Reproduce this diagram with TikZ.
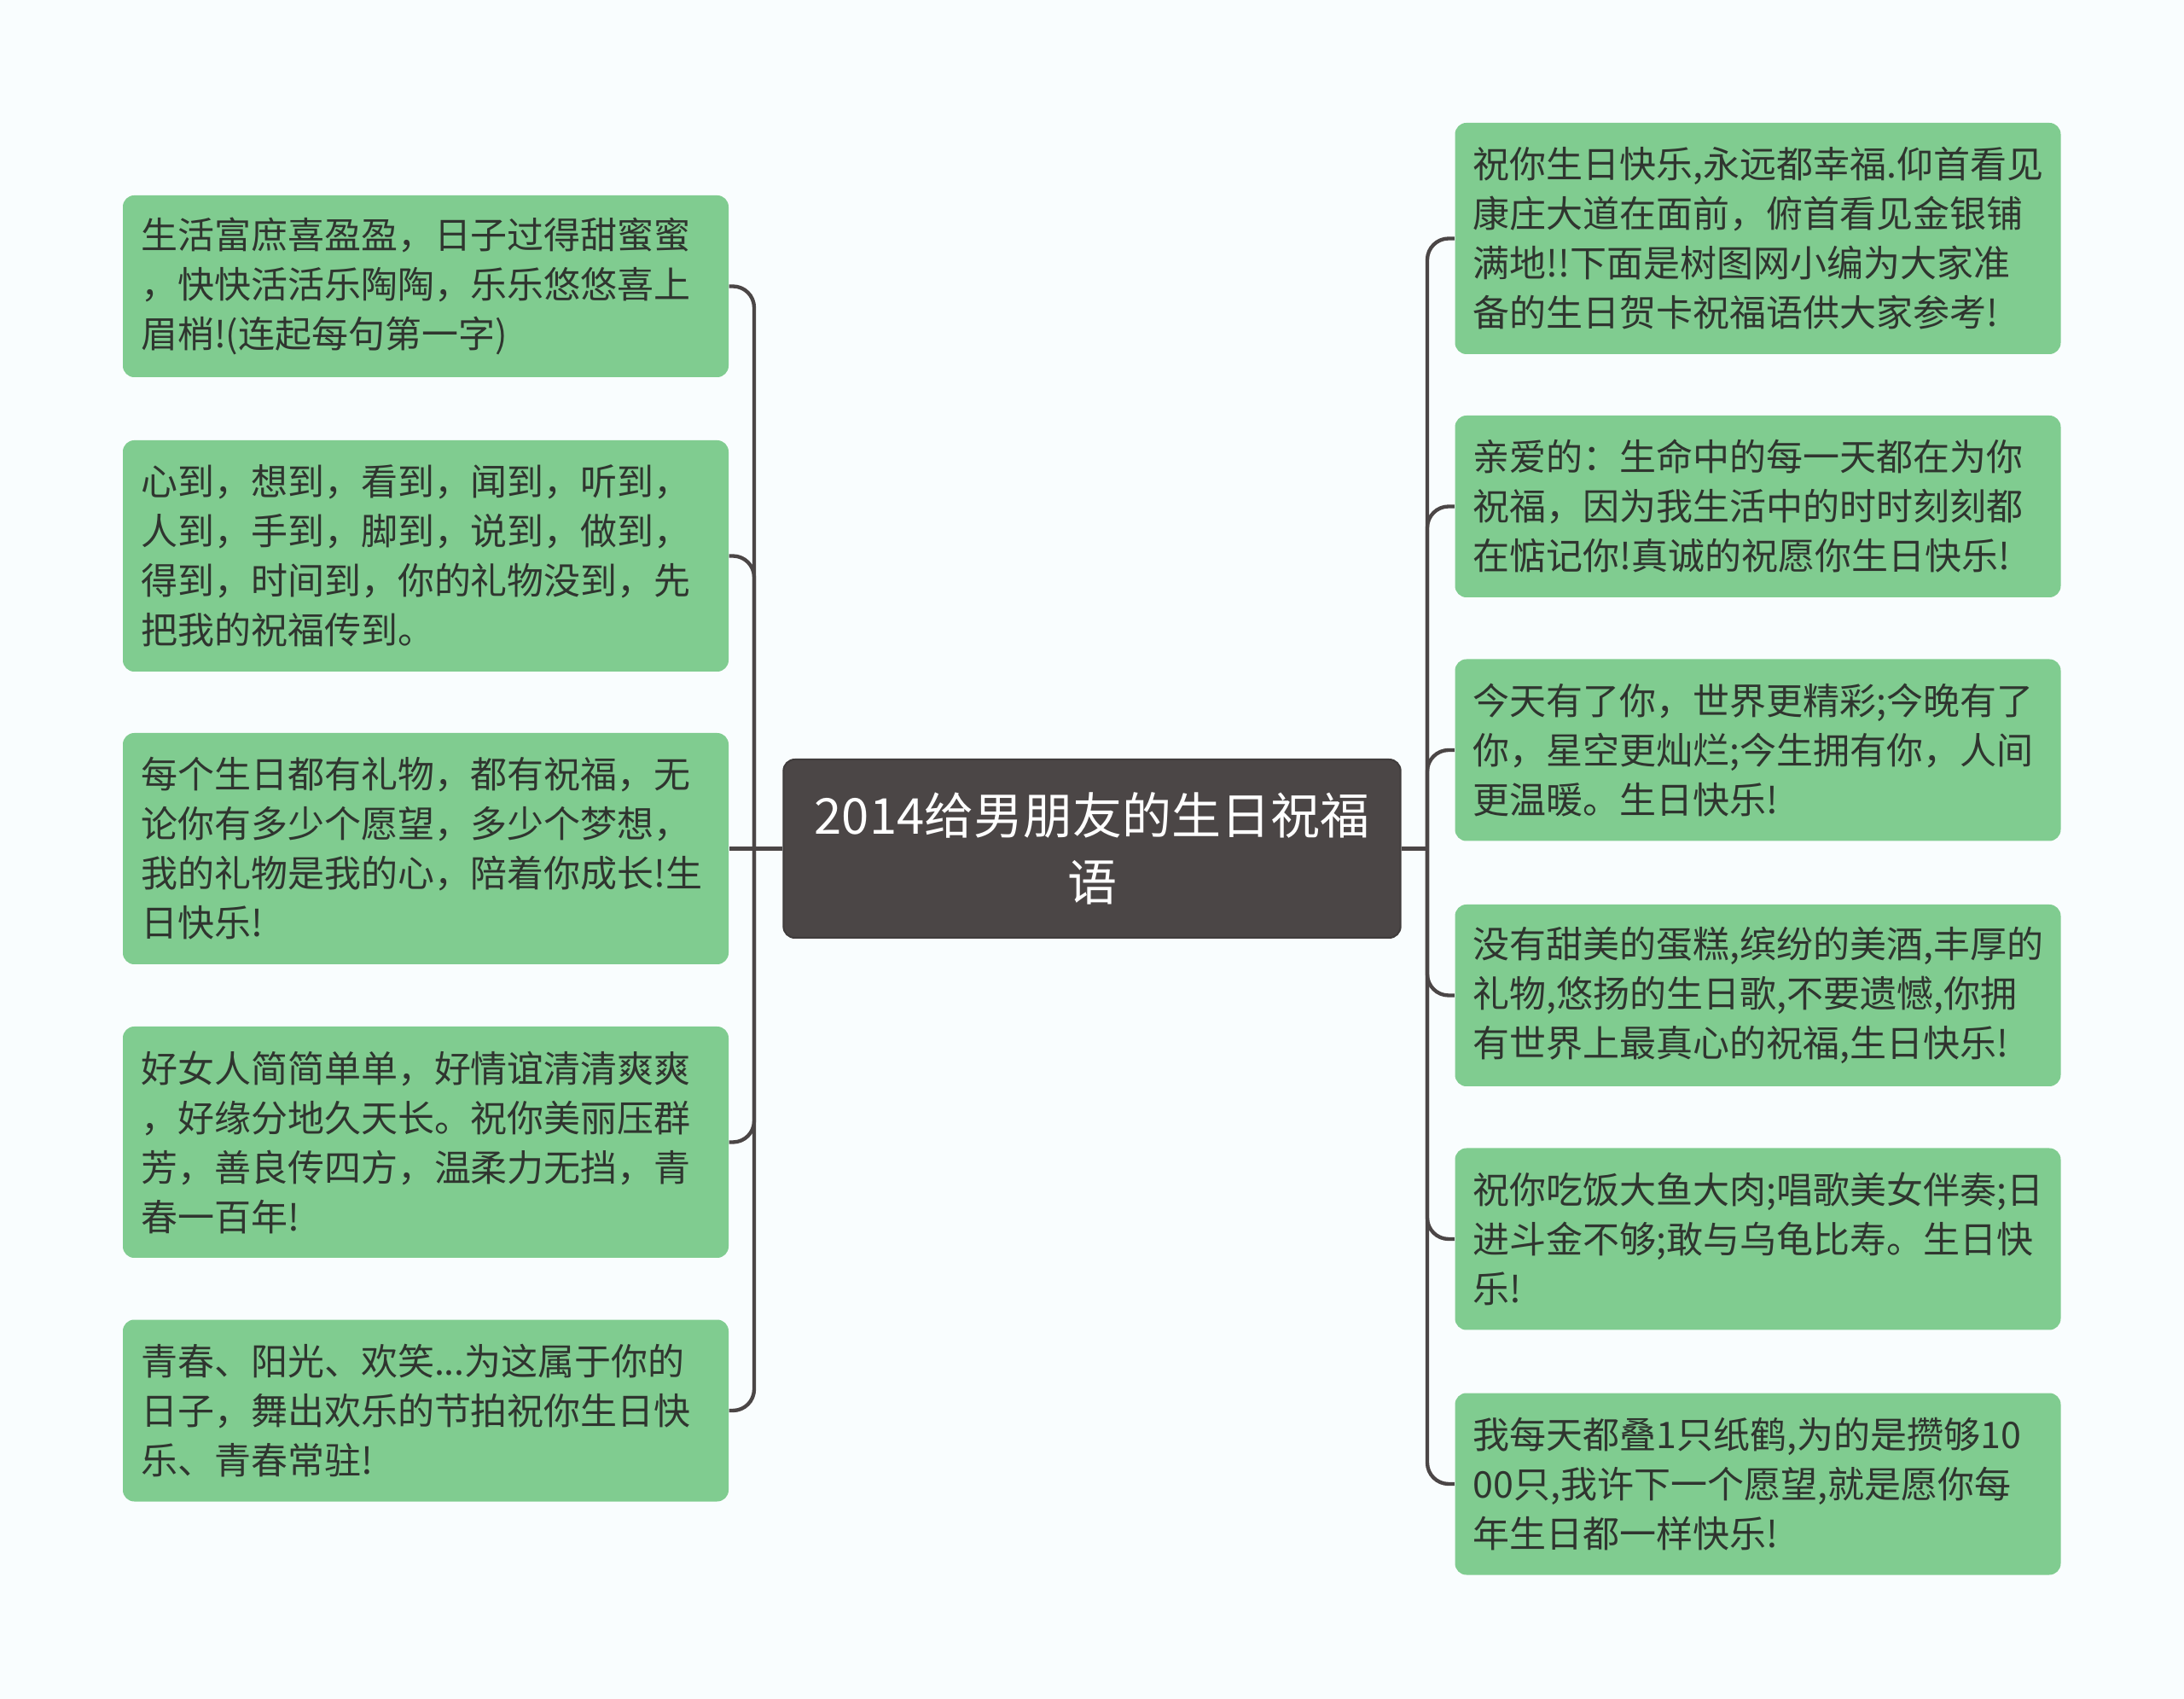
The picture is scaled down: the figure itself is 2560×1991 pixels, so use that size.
\documentclass[tikz,border=0pt]{standalone}
\usepackage{fontspec}
\setmainfont{Noto Sans CJK SC}
\usepackage{tikz}
\usetikzlibrary{positioning, calc}
\definecolor{mBg}{HTML}{F9FDFE}
\definecolor{mGreen}{HTML}{80CC90}
\definecolor{mDark}{HTML}{4B4646}
\definecolor{mText}{HTML}{2F352F}
\tikzset{
  leaf/.style={rectangle, rounded corners=4pt, fill=mGreen, text=mText,
    minimum width=213pt, text width=200.4pt, inner xsep=6.3pt, inner ysep=0pt,
    align=left, font=\fontsize{12.9}{17.4}\selectfont},
  rootbox/.style={rectangle, rounded corners=4pt, fill=mDark, draw=mDark!85!black, line width=0.6pt,
    minimum width=217pt, minimum height=62.7pt, text=white, align=center,
    font=\fontsize{17.4}{23.5}\selectfont},
  link/.style={draw=mDark, line width=1.3pt, rounded corners=7.5pt}
}

\begin{document}
\begin{tikzpicture}[x=0.3pt, y=-0.3pt]
    \fill[mBg] (0,0) rectangle (2560,1991);
    \useasboundingbox (0,0) rectangle (2560,1991);

    % centre
    \node[rootbox] (root) at (1280,994.5) {2014给男朋友的生日祝福\\语};

    % left side
    \node[leaf, minimum height=63.9pt] (l1) at (499,335.5)
      {生活富庶喜盈盈，日子过得甜蜜蜜\\，快快活活乐陶陶，乐乐悠悠喜上\\眉梢!(连起每句第一字)};
    \node[leaf, minimum height=81.3pt] (l2) at (499,651.5)
      {心到，想到，看到，闻到，听到，\\人到，手到，脚到，说到，做到，\\得到，时间到，你的礼物没到，先\\把我的祝福传到。};
    \node[leaf, minimum height=81.3pt] (l3) at (499,994.5)
      {每个生日都有礼物，都有祝福，无\\论你有多少个愿望，多少个梦想，\\我的礼物是我的心，陪着你成长!生\\日快乐!};
    \node[leaf, minimum height=81.3pt] (l4) at (499,1338.5)
      {好女人简简单单，好情谊清清爽爽\\，好缘分地久天长。祝你美丽压群\\芳，善良传四方，温柔力无挡，青\\春一百年!};
    \node[leaf, minimum height=63.9pt] (l5) at (499,1653)
      {青春、阳光、欢笑...为这属于你的\\日子，舞出欢乐的节拍祝你生日快\\乐、青春常驻!};

    % right side
    \node[leaf, minimum height=81.3pt] (r1) at (2060.5,279.5)
      {祝你生日快乐,永远都幸福.仰首看见\\康庄大道在面前，俯首看见金银铺\\满地!!下面是树图网小编为大家准\\备的生日贺卡祝福语供大家参考!};
    \node[leaf, minimum height=63.9pt] (r2) at (2060.5,593.5)
      {亲爱的：生命中的每一天都在为你\\祝福，因为我生活中的时时刻刻都\\在惦记你!真诚的祝愿你生日快乐!};
    \node[leaf, minimum height=63.9pt] (r3) at (2060.5,879)
      {今天有了你，世界更精彩;今晚有了\\你，星空更灿烂;今生拥有你，人间\\更温暖。生日快乐!};
    \node[leaf, minimum height=63.9pt] (r4) at (2060.5,1166.5)
      {没有甜美的蛋糕,缤纷的美酒,丰厚的\\礼物,悠扬的生日歌,不要遗憾,你拥\\有世界上最真心的祝福,生日快乐!};
    \node[leaf, minimum height=63.9pt] (r5) at (2060.5,1452)
      {祝你吃饭大鱼大肉;唱歌美女伴奏;日\\进斗金不够;敢与乌龟比寿。生日快\\乐!};
    \node[leaf, minimum height=63.9pt] (r6) at (2060.5,1739)
      {我每天都叠1只纸鹤,为的是攒够10\\00只,我许下一个愿望,就是愿你每\\年生日都一样快乐!};

    % connectors
    \coordinate (jl) at (884,994.5);
    \coordinate (jr) at (1673,994.5);
    \draw[link] (root.west) -- (jl) -- (l3.east);
    \draw[link] (root.east) -- (jr);
    \foreach \n in {l1,l2,l4,l5}
      \draw[link] (jl) |- (\n.east);
    \foreach \n in {r1,r2,r3,r4,r5,r6}
      \draw[link] (jr) |- (\n.west);
\end{tikzpicture}
\end{document}
